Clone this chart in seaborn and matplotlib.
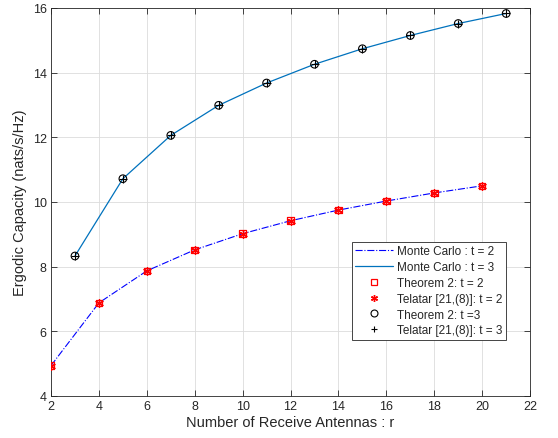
import numpy as np
import pandas as pd
import matplotlib
matplotlib.use("Agg")
import matplotlib.pyplot as plt
import seaborn as sns
from matplotlib.lines import Line2D

r_t2 = [2, 4, 6, 8, 10, 12, 14, 16, 18, 20]
cap_t2 = [4.94, 6.88, 7.87, 8.52, 9.02, 9.42, 9.75, 10.03, 10.28, 10.50]
r_t3 = [3, 5, 7, 9, 11, 13, 15, 17, 19, 21]
cap_t3 = [8.33, 10.72, 12.06, 12.99, 13.68, 14.26, 14.74, 15.15, 15.52, 15.83]

sns.set_theme(style="white")
plt.rcParams['font.family'] = ['Liberation Sans', 'DejaVu Sans']

df2 = pd.DataFrame({"r": r_t2, "cap": cap_t2})
df3 = pd.DataFrame({"r": r_t3, "cap": cap_t3})

fig = plt.figure(figsize=(5.58, 4.39), dpi=100)
ax = fig.add_axes([0.0914, 0.0957, 0.8586, 0.8838])

sns.lineplot(data=df2, x="r", y="cap", ax=ax, color=(0, 0, 1), linestyle="-.", linewidth=0.8, zorder=2)
sns.lineplot(data=df3, x="r", y="cap", ax=ax, color="#0072BD", linestyle="-", linewidth=0.9, zorder=2)
sns.scatterplot(data=df2, x="r", y="cap", ax=ax, marker="s", s=22, facecolor="none", edgecolor="red", linewidth=0.9, zorder=3)
sns.scatterplot(data=df2, x="r", y="cap", ax=ax, marker=(6, 2, 0), s=30, color="red", edgecolor="red", linewidth=1.0, zorder=4)
sns.scatterplot(data=df3, x="r", y="cap", ax=ax, marker="o", s=30, facecolor="none", edgecolor="black", linewidth=0.8, zorder=3)
sns.scatterplot(data=df3, x="r", y="cap", ax=ax, marker="+", s=30, color="black", linewidth=0.8, zorder=4)

ax.set_xlim(2, 22)
ax.set_ylim(4, 16)
ax.set_xticks(range(2, 23, 2))
ax.set_yticks(range(4, 17, 2))
ax.grid(True, color="#dcdcdc", linewidth=0.6)
ax.set_axisbelow(True)
for s in ax.spines.values():
    s.set_color("#262626")
    s.set_linewidth(0.6)
    s.set_visible(True)
ax.tick_params(direction="in", length=4, width=0.6, colors="#262626", labelsize=9,
               top=True, right=True, bottom=True, left=True, pad=3)
ax.set_xlabel("Number of Receive Antennas : r", fontsize=10.5, color="#262626", labelpad=2)
ax.set_ylabel("Ergodic Capacity (nats/s/Hz)", fontsize=10.5, color="#262626", labelpad=4)

handles = [
    Line2D([], [], color=(0, 0, 1), linestyle="-.", linewidth=0.8),
    Line2D([], [], color="#0072BD", linestyle="-", linewidth=0.9),
    Line2D([], [], color="red", marker="s", markersize=4.5, markerfacecolor="none", linestyle="none", markeredgewidth=0.9),
    Line2D([], [], color="red", marker=(6, 2, 0), markersize=5, linestyle="none", markeredgewidth=1.0),
    Line2D([], [], color="black", marker="o", markersize=5, markerfacecolor="none", linestyle="none", markeredgewidth=0.8),
    Line2D([], [], color="black", marker="+", markersize=5, linestyle="none", markeredgewidth=0.8),
]
labels = ["Monte Carlo : t = 2", "Monte Carlo : t = 3", "Theorem 2: t = 2",
          "Telatar [21,(8)]: t = 2", "Theorem 2: t =3", "Telatar [21,(8)]: t = 3"]
leg = ax.legend(handles, labels, loc="upper left", bbox_to_anchor=(0.628, 0.397),
                fontsize=8.5, frameon=True, fancybox=False, framealpha=1, borderpad=0.3,
                labelspacing=0.32, handlelength=3.2, handletextpad=0.3, borderaxespad=0)
leg.get_frame().set_edgecolor("#262626")
leg.get_frame().set_linewidth(0.6)
leg.set_zorder(10)

fig.savefig("out.png", dpi=100)
